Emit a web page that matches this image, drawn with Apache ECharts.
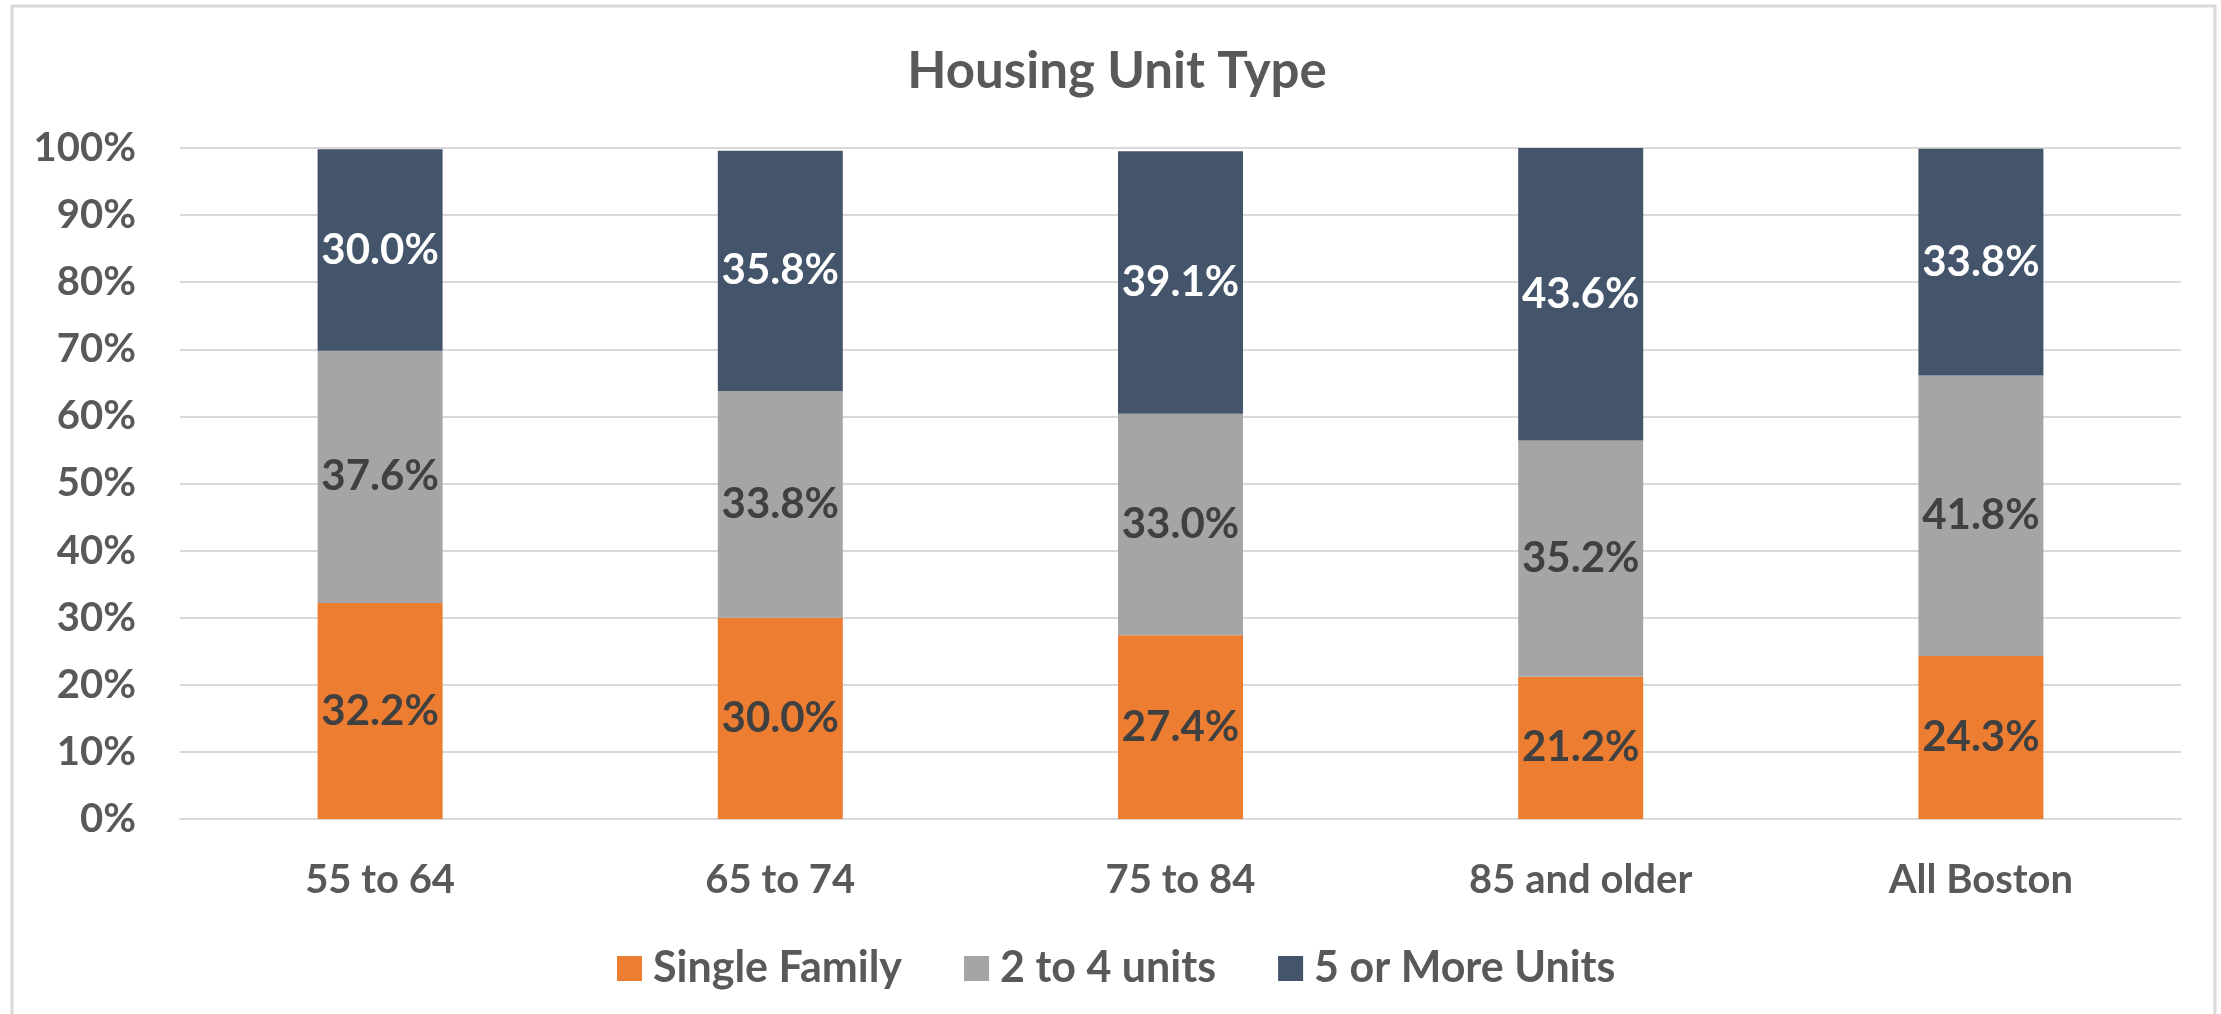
<!DOCTYPE html>
<html>
<head>
<meta charset="utf-8">
<title>Housing Unit Type</title>
<script src="https://cdn.jsdelivr.net/npm/echarts@6/dist/echarts.min.js"></script>
<style>
  html, body { margin: 0; padding: 0; background: #fff; }
  #main { width: 2221px; height: 1014px; }
</style>
</head>
<body>
<div id="main"></div>
<script>
// data
var categories = ['55 to 64', '65 to 74', '75 to 84', '85 and older', 'All Boston'];
var singleFamily = [32.2, 30.0, 27.4, 21.2, 24.3];
var twoToFour = [37.6, 33.8, 33.0, 35.2, 41.8];
var fiveOrMore = [30.0, 35.8, 39.1, 43.6, 33.8];
var yTicks = [0, 10, 20, 30, 40, 50, 60, 70, 80, 90, 100];

var textColor = '#595959';
var fontFamily = 'Lato';

var chart = echarts.init(document.getElementById('main'), null, { renderer: 'canvas' });

function makeSeries(name, data, color, labelColor) {
  return {
    name: name,
    type: 'bar',
    stack: 'total',
    barWidth: 125,
    data: data,
    itemStyle: { color: color },
    label: {
      show: true,
      position: 'inside',
      color: labelColor,
      fontFamily: fontFamily,
      fontWeight: 'bold',
      fontSize: 42,
      formatter: function (p) { return p.value.toFixed(1) + '%'; }
    },
    emphasis: { disabled: true }
  };
}

var option = {
  backgroundColor: '#fff',
  animation: false,
  title: {
    text: 'Housing Unit Type',
    left: 1112,
    textAlign: 'center',
    top: 41,
    textStyle: { color: textColor, fontFamily: fontFamily, fontWeight: 'bold', fontSize: 51 }
  },
  // outer frame of the chart
  graphic: [{
    type: 'rect',
    shape: { x: 12, y: 6, width: 2203, height: 1030 },
    style: { fill: null, stroke: '#d9d9d9', lineWidth: 3 },
    silent: true
  }],
  legend: {
    data: ['Single Family', '2 to 4 units', '5 or More Units'],
    left: 612,
    top: 942,
    icon: 'rect',
    itemWidth: 25,
    itemHeight: 25,
    itemGap: 62,
    textStyle: { color: textColor, fontFamily: fontFamily, fontWeight: 'bold', fontSize: 43, padding: [0, 0, 0, 6] }
  },
  grid: { left: 180, right: 40, top: 148, bottom: 195, containLabel: false },
  xAxis: {
    type: 'category',
    data: categories,
    axisLine: { show: true, lineStyle: { color: '#d9d9d9', width: 2 } },
    axisTick: { show: false },
    axisLabel: { color: textColor, fontFamily: fontFamily, fontWeight: 'bold', fontSize: 40, margin: 61, verticalAlign: 'middle' }
  },
  yAxis: {
    type: 'value',
    min: yTicks[0],
    max: yTicks[yTicks.length - 1],
    interval: 10,
    axisLine: { show: false },
    axisTick: { show: false },
    splitLine: { lineStyle: { color: '#d9d9d9', width: 2 } },
    axisLabel: {
      color: textColor, fontFamily: fontFamily, fontWeight: 'bold', fontSize: 40, margin: 44,
      formatter: function (v) { return v + '%'; }
    }
  },
  series: [
    makeSeries('Single Family', singleFamily, '#ED7D31', '#404040'),
    makeSeries('2 to 4 units', twoToFour, '#A5A5A5', '#404040'),
    makeSeries('5 or More Units', fiveOrMore, '#44546A', '#ffffff')
  ]
};

chart.setOption(option);
</script>
</body>
</html>
